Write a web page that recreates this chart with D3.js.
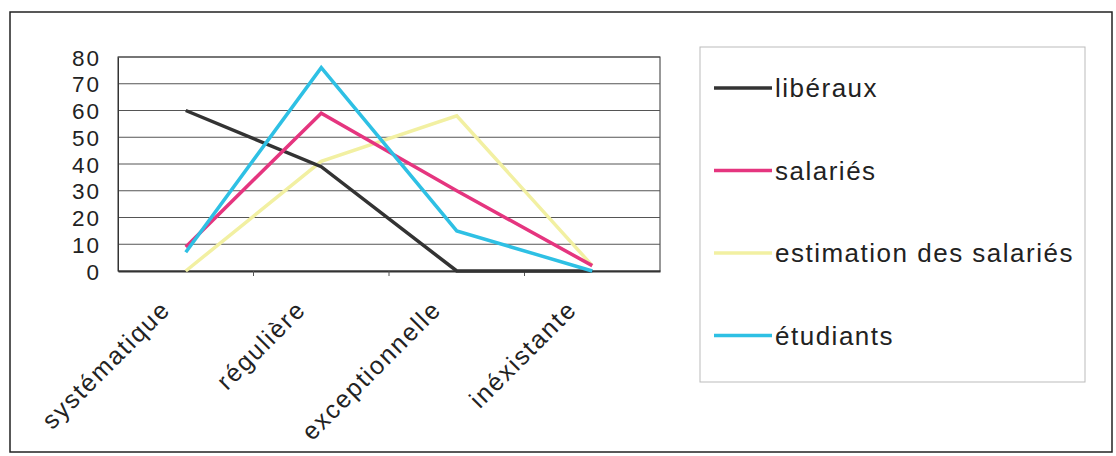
<!DOCTYPE html>
<html><head><meta charset="utf-8">
<script src="https://cdn.jsdelivr.net/npm/d3@7"></script>
<style>body{margin:0;background:#fff}svg{display:block}</style>
</head><body>
<svg id="c" width="1116" height="456"></svg>
<script>
const categories = ["systématique", "régulière", "exceptionnelle", "inéxistante"];
const seriesNames = ["libéraux", "salariés", "estimation des salariés", "étudiants"];
const liberaux = [60, 39, 0, 0];
const salaries = [9, 59, 30, 2];
const estimation = [0, 41, 58, 2];
const etudiants = [7, 76, 15, 0];
const yTicks = [0, 10, 20, 30, 40, 50, 60, 70, 80];
const colors = ["#333333", "#e5357f", "#f2f0a2", "#2ec0e4"];
const allSeries = [liberaux, salaries, estimation, etudiants];

const svg = d3.select("#c");
const font = "'Liberation Sans', Arial, sans-serif";

// outer frame
svg.append("rect").attr("x", 10).attr("y", 12).attr("width", 1102).attr("height", 440)
  .attr("fill", "#fff").attr("stroke", "#222").attr("stroke-width", 1.5);

const L = 118, R = 660, T = 57, B = 271;
const x = d3.scaleBand().domain(categories).range([L, R]);
const y = d3.scaleLinear().domain([0, 80]).range([B, T]);

// plot area
svg.append("rect").attr("x", L).attr("y", T).attr("width", R - L).attr("height", B - T)
  .attr("fill", "#fff").attr("stroke", "#333").attr("stroke-width", 1);

// gridlines
svg.append("g").selectAll("line").data(yTicks.slice(1)).join("line")
  .attr("x1", L).attr("x2", R).attr("y1", d => y(d)).attr("y2", d => y(d))
  .attr("stroke", "#555").attr("stroke-width", 1);

// y axis
const yAxis = d3.axisLeft(y).tickValues(yTicks).tickSize(0).tickPadding(17);
const gy = svg.append("g").attr("transform", `translate(${L},0)`).call(yAxis);
gy.select(".domain").attr("stroke", "#333");
gy.selectAll("text").attr("font-family", font).attr("font-size", 22.5).attr("fill", "#222")
  .attr("letter-spacing", 2).attr("dy", "0.36em");

// x axis
const xAxis = d3.axisBottom(x).tickSize(0).tickPadding(0);
const gx = svg.append("g").attr("transform", `translate(0,${B})`).call(xAxis);
gx.select(".domain").attr("stroke", "#333").attr("stroke-width", 2);
gx.selectAll("text")
  .attr("font-family", font).attr("font-size", 25).attr("fill", "#222")
  .attr("letter-spacing", 1.8).attr("text-anchor", "end").attr("dy", 0)
  .attr("transform", "translate(-14,40) rotate(-45)");
// small ticks at band boundaries
svg.append("g").selectAll("line").data(categories.slice(1)).join("line")
  .attr("x1", d => x(d)).attr("x2", d => x(d)).attr("y1", B).attr("y2", B + 5)
  .attr("stroke", "#555");

// lines
const line = d3.line().x((d, i) => x(categories[i]) + x.bandwidth() / 2).y(d => y(d));
const order = [2, 0, 1, 3];
order.forEach(k => {
  svg.append("path").datum(allSeries[k]).attr("d", line)
    .attr("fill", "none").attr("stroke", colors[k]).attr("stroke-width", 3.5)
    .attr("stroke-linejoin", "miter");
});

// legend
svg.append("rect").attr("x", 700).attr("y", 47).attr("width", 385).attr("height", 335)
  .attr("fill", "#fff").attr("stroke", "#bbb").attr("stroke-width", 1);
const lg = svg.append("g").selectAll("g").data(seriesNames).join("g")
  .attr("transform", (d, i) => `translate(714,${88 + i * 82.5})`);
lg.append("line").attr("x1", 0).attr("x2", 58).attr("y1", 0).attr("y2", 0)
  .attr("stroke", (d, i) => colors[i]).attr("stroke-width", 3.5);
lg.append("text").attr("x", 61).attr("y", 0).attr("dy", "0.35em")
  .attr("font-family", font).attr("font-size", 26).attr("letter-spacing", 1.5).attr("fill", "#222")
  .text(d => d);
</script>
</body></html>
